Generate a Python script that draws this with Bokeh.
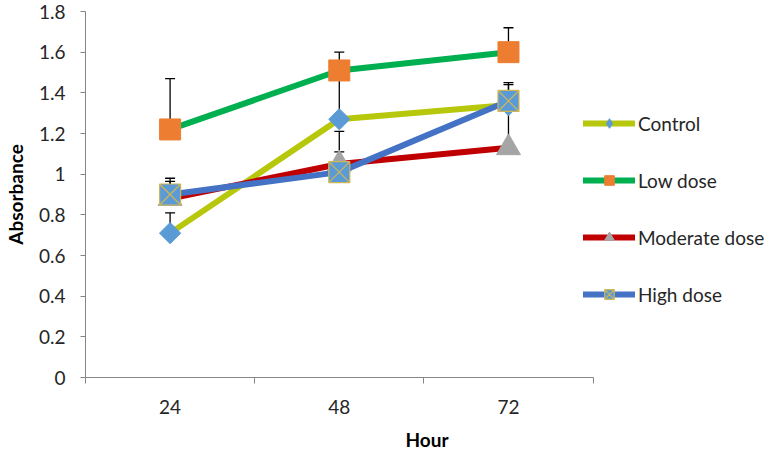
from bokeh.plotting import figure
from bokeh.models import (ColumnDataSource, FixedTicker, Whisker, TeeHead,
                          Legend, LegendItem, Range1d)
from bokeh.embed import file_html
from bokeh.resources import INLINE
import math

# ---- data -------------------------------------------------------------
hours = ["24", "48", "72"]
control = [0.71, 1.27, 1.34]
low_dose = [1.22, 1.51, 1.60]
moderate_dose = [0.88, 1.05, 1.13]
high_dose = [0.90, 1.01, 1.36]
control_err = [0.10, 0.23, 0.10]
low_dose_err = [0.25, 0.09, 0.12]
moderate_err = [0.10, 0.16, 0.20]
high_err = [0.065, 0.10, 0.09]
y_ticks = [0, 0.2, 0.4, 0.6, 0.8, 1.0, 1.2, 1.4, 1.6, 1.8]
y_labels = ["0", "0.2", "0.4", "0.6", "0.8", "1", "1.2", "1.4", "1.6", "1.8"]

x = [i + 0.5 for i in range(len(hours))]
boundaries = [float(i) for i in range(len(hours) + 1)]

FONT = "Lato"
AXIS_COLOR = "#868686"
TEXT_COLOR = "#262626"

W, H = 768, 453
LEFT, TOP, BOTTOM = 75, 11, 75
AXIS_W = 515                       # pixel length of the category axis
FRAME_W = W - LEFT                 # frame extends under the legend area
x_end = len(hours) * FRAME_W / AXIS_W

p = figure(width=W, height=H, output_backend="svg", toolbar_location=None,
           x_range=Range1d(0, x_end), y_range=Range1d(0, 1.8),
           min_border_left=LEFT, min_border_right=0, min_border_top=TOP,
           min_border_bottom=BOTTOM)
p.outline_line_color = None
p.grid.visible = False
p.background_fill_color = "white"
p.border_fill_color = "white"

# x axis
p.xaxis.bounds = (0, len(hours))
p.xaxis.ticker = FixedTicker(ticks=x, minor_ticks=boundaries)
p.xaxis.major_label_overrides = {xv: h for xv, h in zip(x, hours)}
p.xaxis.major_tick_line_color = None
p.xaxis.major_tick_out = 6
p.xaxis.major_tick_in = 0
p.xaxis.minor_tick_line_color = AXIS_COLOR
p.xaxis.minor_tick_out = 6
p.xaxis.minor_tick_in = 0
p.xaxis.axis_line_color = AXIS_COLOR
p.xaxis.major_label_standoff = 16
p.xaxis.axis_label = "Hour"
p.xaxis.axis_label_standoff = 11

# y axis
p.yaxis.ticker = FixedTicker(ticks=y_ticks)
p.yaxis.major_label_overrides = {t: l for t, l in zip(y_ticks, y_labels)}
p.yaxis.major_tick_line_color = AXIS_COLOR
p.yaxis.major_tick_out = 5
p.yaxis.major_tick_in = 0
p.yaxis.minor_tick_line_color = None
p.yaxis.axis_line_color = AXIS_COLOR
p.yaxis.major_label_standoff = 15
p.yaxis.axis_label = "Absorbance"
p.yaxis.axis_label_standoff = 9

for ax in (p.xaxis, p.yaxis):
    ax.major_label_text_font = FONT
    ax.major_label_text_font_size = "19px"
    ax.major_label_text_color = TEXT_COLOR
    ax.axis_label_text_font = FONT
    ax.axis_label_text_font_size = "19px"
    ax.axis_label_text_font_style = "bold"
    ax.axis_label_text_color = "black"
    ax.axis_line_width = 1

series = [
    ("Control", control, control_err, "#b7c80c",
     dict(marker="square", size=15, angle=math.pi / 4,
          fill_color="#5b9bd5", line_color="#5b9bd5"),
     dict(marker="diamond", size=18, fill_color="#5b9bd5", line_color="#5b9bd5")),
    ("Low dose", low_dose, low_dose_err, "#00b050",
     dict(marker="square", size=21, fill_color="#ed7d31", line_color="#ed7d31"),
     None),
    ("Moderate dose", moderate_dose, moderate_err, "#c00000",
     dict(marker="triangle", size=24, fill_color="#a5a5a5", line_color="#a5a5a5"),
     None),
    ("High dose", high_dose, high_err, "#4472c4",
     dict(marker="square_x", size=21, fill_color="#5b9bd5", line_color="#cfb656",
          line_width=1.2),
     None),
]

items = []
for name, vals, errs, lcolor, mk, legend_mk in series:
    src = ColumnDataSource(dict(x=x, y=vals,
                                upper=[v + e for v, e in zip(vals, errs)]))
    wh = Whisker(base="x", lower="y", upper="upper", source=src,
                 line_color="black", line_width=1.3,
                 upper_head=TeeHead(size=10, line_color="black", line_width=1.3),
                 lower_head=None, level="underlay")
    p.add_layout(wh)
    lr = p.line("x", "y", source=src, line_color=lcolor, line_width=6,
                line_cap="round", line_join="round")
    if legend_mk is not None:
        # same points, drawn first so the rotated square covers it; used for the legend
        leg_r = p.scatter("x", "y", source=src, **legend_mk)
    sr = p.scatter("x", "y", source=src, **mk)
    if legend_mk is not None:
        items.append(LegendItem(label=name, renderers=[lr, leg_r]))
    else:
        items.append(LegendItem(label=name, renderers=[lr, sr]))

legend = Legend(items=items, location=(498, 71), orientation="vertical",
                glyph_width=52, glyph_height=24, label_height=24, spacing=33,
                padding=0, margin=0, label_standoff=3,
                border_line_color=None, background_fill_alpha=0,
                label_text_font=FONT, label_text_font_size="19px",
                label_text_color=TEXT_COLOR)
p.add_layout(legend, "center")

open("out.html", "w").write(file_html(p, INLINE))
